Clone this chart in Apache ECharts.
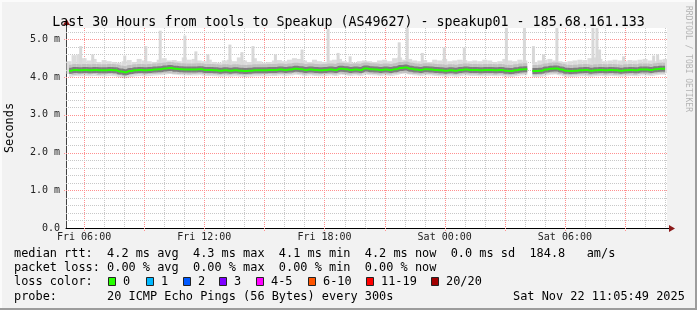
<!DOCTYPE html>
<html><head><meta charset="utf-8">
<script src="https://cdn.jsdelivr.net/npm/echarts@6/dist/echarts.min.js"></script>
<style>html,body{margin:0;padding:0;background:#f2f2f2}#c{width:697px;height:310px}</style>
</head><body><div id="c"></div>
<script>
// ---------------- DATA ----------------
const titleText = 'Last 30 Hours from tools to Speakup (AS49627) - speakup01 - 185.68.161.133';
const startHour = 5 + 5/60 + 49/3600;   // Fri 05:05:49 (hours since Fri 00:00)
const spanHours = 30;
const firstSampleHour = 5.25;
const sampleStepHours = 0.25;

const medianRtt = [
4.17,4.19,4.18,4.19,4.18,4.19,4.18,4.18,4.19,4.18,
4.15,4.13,4.16,4.18,4.19,4.18,4.19,4.20,4.21,4.23,
4.24,4.22,4.21,4.20,4.20,4.20,4.21,4.19,4.19,4.18,
4.17,4.18,4.17,4.18,4.17,4.16,4.17,4.18,4.18,4.18,
4.19,4.19,4.20,4.19,4.20,4.22,4.21,4.19,4.20,4.19,
4.18,4.19,4.20,4.19,4.22,4.21,4.19,4.20,4.19,4.23,
4.21,4.20,4.19,4.20,4.19,4.21,4.24,4.25,4.22,4.20,
4.19,4.21,4.20,4.19,4.18,4.17,4.18,4.17,4.19,4.20,
4.19,4.19,4.18,4.19,4.19,4.18,4.19,4.17,4.16,4.18,
4.20,4.21,null,4.16,4.17,4.20,4.22,4.23,4.20,4.17,
4.16,4.17,4.18,4.19,4.17,4.18,4.19,4.18,4.19,4.18,
4.17,4.18,4.19,4.18,4.20,4.20,4.19,4.21,4.22,4.22];

const smokeLow = [
4.08,4.06,4.07,4.08,4.07,4.08,4.06,4.07,4.08,4.07,
4.05,4.03,4.05,4.07,4.08,4.07,4.08,4.08,4.09,4.10,
4.10,4.09,4.08,4.08,4.07,4.08,4.09,4.08,4.07,4.07,
4.06,4.07,4.06,4.07,4.06,4.05,4.06,4.07,4.07,4.08,
4.08,4.07,4.08,4.08,4.08,4.10,4.09,4.07,4.08,4.07,
4.07,4.08,4.08,4.07,4.09,4.08,4.07,4.08,4.07,4.10,
4.09,4.08,4.07,4.08,4.07,4.09,4.10,4.11,4.09,4.08,
4.07,4.08,4.08,4.07,4.06,4.06,4.07,4.06,4.07,4.08,
4.07,4.07,4.06,4.07,4.07,4.06,4.07,4.06,4.05,4.06,
4.08,4.09,null,4.05,4.06,4.08,4.10,4.10,4.08,4.06,
4.05,4.06,4.07,4.07,4.05,4.06,4.07,4.06,4.07,4.06,
4.06,4.07,4.07,4.06,4.08,4.08,4.07,4.09,4.10,4.10];

const smokeHigh = [
4.42,4.58,4.60,4.50,4.44,4.48,4.40,4.45,4.42,4.40,
4.38,4.42,4.45,4.40,4.48,4.44,4.42,4.40,4.46,4.50,
4.44,4.45,4.42,4.52,4.46,4.48,4.44,4.42,4.46,4.40,
4.38,4.44,4.46,4.42,4.52,4.44,4.40,4.50,4.42,4.38,
4.40,4.44,4.45,4.42,4.46,4.50,4.48,4.44,4.40,4.46,
4.42,4.40,4.44,4.46,4.48,4.42,4.40,4.38,4.42,4.44,
4.42,4.40,4.44,4.46,4.42,4.50,4.52,4.46,4.48,4.44,
4.42,4.45,4.40,4.46,4.44,4.48,4.42,4.44,4.46,4.45,
4.42,4.44,4.42,4.46,4.44,4.40,4.42,4.48,4.44,4.42,
4.46,4.44,null,4.40,4.44,4.46,4.48,4.44,4.42,4.40,
4.42,4.44,4.46,4.45,4.50,4.52,4.48,4.42,4.44,4.46,
4.44,4.42,4.45,4.44,4.46,4.48,4.44,4.42,4.46,4.48];

const spikeTimes = [5.83,6.43,8.03,9.08,9.80,11.03,11.58,12.18,13.28,13.88,14.43,15.55,16.88,18.18,18.68,19.28,
                    21.73,22.13,22.88,23.98,24.98,27.08,27.98,28.43,28.93,29.60,31.40,31.60,31.73,32.93,34.43,34.63];
const spikeLow   = [4.35,4.35,4.35,4.35,4.35,4.35,4.35,4.35,4.35,4.35,4.35,4.35,4.35,4.35,4.35,4.35,
                    4.35,4.35,4.35,4.35,4.35,4.35,4.35,4.35,4.35,4.35,4.35,4.35,4.35,4.35,4.35,4.35];
const spikeHigh  = [4.82,4.60,4.57,4.82,5.23,5.10,4.68,4.60,4.86,4.66,4.82,4.60,4.73,5.28,4.64,4.55,
                    4.92,5.30,4.64,4.78,4.78,5.30,5.30,4.82,4.60,5.30,5.30,5.30,4.73,4.55,4.57,4.60];

const yLabelValues = [0,1,2,3,4,5];
const yMajorGrid = [1,2,3,4,5];
const yMinorGrid = [0.2,0.4,0.6,0.8,1.2,1.4,1.6,1.8,2.2,2.4,2.6,2.8,3.2,3.4,3.6,3.8,4.2,4.4,4.6,4.8,5.2];
const xLabelHours = [6,12,18,24,30];
const xLabelTexts = ['Fri 06:00','Fri 12:00','Fri 18:00','Sat 00:00','Sat 06:00'];
const majorGridHours = [6,9,12,15,18,21,24,27,30,33];
const minorGridHours = [7,8,10,11,13,14,16,17,19,20,22,23,25,26,28,29,31,32,34,35];

const rttStatValues = [4.2,4.3,4.1,4.2,0.0];
const rttStatNames = ['avg','max','min','now','sd'];
const ampsValue = 184.8;
const lossStatValues = [0,0,0,0];
const lossStatNames = ['avg','max','min','now'];
const lossLabels = ['0','1','2','3','4-5','6-10','11-19','20/20'];
const lossColors = ['#26ff00','#00b8ff','#0059ff','#7e00ff','#ff00ff','#ff5500','#ff0000','#a10000'];
const probeCount = 20, probeBytes = 56, probeStep = 300;
const stampText = 'Sat Nov 22 11:05:49 2025';

// ---------------- BUILD ----------------
const sampleHours = medianRtt.map((_, i) => firstSampleHour + i * sampleStepHours);
const smokeData = [];
sampleHours.forEach((t, i) => { if (smokeLow[i] != null) smokeData.push([t, smokeLow[i], smokeHigh[i]]); });
const medianData = sampleHours.map((t, i) => [t, medianRtt[i] == null ? '-' : medianRtt[i]]);
const spikeData = spikeTimes.map((t, i) => [t, spikeLow[i], spikeHigh[i]]);
const vGridData = majorGridHours.map(h => [h, 1]).concat(minorGridHours.map(h => [h, 0]));
const hGridData = yMajorGrid.map(v => [v, 1]).concat(yMinorGrid.map(v => [v, 0]));

const mono = "'DejaVu Sans Mono', monospace";
const RED = '#ff9090', GRAY = '#c8c8c8';
const chart = echarts.init(document.getElementById('c'), null, {renderer: 'canvas'});

function bandItem(params, api) {
  const t = api.value(0), lo = api.value(1), hi = api.value(2);
  const p1 = api.coord([t - sampleStepHours / 2, hi]);
  const p2 = api.coord([t + sampleStepHours / 2, lo]);
  return {type: 'rect', shape: {x: p1[0], y: p1[1], width: p2[0] - p1[0], height: p2[1] - p1[1]},
          style: {fill: '#dcdcdc'}};
}
function spikeItem(params, api) {
  const t = api.value(0), lo = api.value(1), hi = api.value(2);
  const p1 = api.coord([t, hi]);
  const p2 = api.coord([t, lo]);
  return {type: 'rect', shape: {x: p1[0] - 1.5, y: p1[1], width: 3, height: p2[1] - p1[1]},
          style: {fill: '#d8d8d8'}};
}
function vGridItem(params, api) {
  const h = api.value(0), major = api.value(1);
  const top = api.coord([h, 5.3]), bot = api.coord([h, 0]);
  const x = Math.round(top[0]) + 0.5;
  return {type: 'line', shape: {x1: x, y1: top[1], x2: x, y2: bot[1] + (major ? 3 : 0)},
          style: {stroke: major ? RED : GRAY, lineWidth: 1, lineDash: [1, 1]}};
}
function hGridItem(params, api) {
  const v = api.value(0), major = api.value(1);
  const l = api.coord([startHour, v]), r = api.coord([startHour + spanHours, v]);
  const y = Math.round(l[1]) + 0.5;
  return {type: 'line', shape: {x1: l[0] - (major ? 2 : 0), y1: y, x2: r[0], y2: y},
          style: {stroke: major ? RED : GRAY, lineWidth: 1, lineDash: [1, 1]}};
}

const rttLine = 'median rtt:  ' + rttStatValues.map((v, i) => v.toFixed(1) + ' ms ' + rttStatNames[i]).join('  ')
  + '  ' + ampsValue.toFixed(1) + '   am/s';
const lossLine = 'packet loss: ' + lossStatValues.map((v, i) => v.toFixed(2) + ' % ' + lossStatNames[i]).join('  ');
const probeLine = 'probe:       ' + probeCount + ' ICMP Echo Pings (' + probeBytes + ' Bytes) every ' + probeStep + 's';

const lossBoxX = [108, 146, 183, 219, 256, 308, 366, 431];
const textStyleBase = {font: '11.9px ' + mono, fill: '#000', verticalAlign: 'middle'};
const graphics = [
  {type: 'rect', shape: {x: 0, y: 0, width: 697, height: 2}, style: {fill: '#fbfbfb'}, silent: true},
  {type: 'rect', shape: {x: 0, y: 0, width: 2, height: 310}, style: {fill: '#fbfbfb'}, silent: true},
  {type: 'rect', shape: {x: 695, y: 0, width: 2, height: 310}, style: {fill: '#9c9c9c'}, silent: true},
  {type: 'rect', shape: {x: 0, y: 308, width: 697, height: 2}, style: {fill: '#9c9c9c'}, silent: true},
  {type: 'line', shape: {x1: 66.5, y1: 28, x2: 66.5, y2: 24}, style: {stroke: '#444', lineWidth: 1}},
  {type: 'polygon', shape: {points: [[63, 25], [70, 25], [66.5, 19]]}, style: {fill: '#8b1a1a'}},
  {type: 'line', shape: {x1: 666, y1: 228.5, x2: 670, y2: 228.5}, style: {stroke: '#000', lineWidth: 1}},
  {type: 'polygon', shape: {points: [[669, 225], [669, 232], [675, 228.5]]}, style: {fill: '#8b1a1a'}},
  {type: 'text', x: 688, y: 59, rotation: -Math.PI / 2,
   style: {text: 'RRDTOOL / TOBI OETIKER', font: '8px ' + mono, fill: '#b4b4b4', align: 'center', verticalAlign: 'middle'}},
  {type: 'text', x: 14, y: 254, style: Object.assign({text: rttLine}, textStyleBase)},
  {type: 'text', x: 14, y: 268.3, style: Object.assign({text: lossLine}, textStyleBase)},
  {type: 'text', x: 14, y: 282, style: Object.assign({text: 'loss color:'}, textStyleBase)},
  {type: 'text', x: 14, y: 296.7, style: Object.assign({text: probeLine}, textStyleBase)},
  {type: 'text', x: 513, y: 296.7, style: Object.assign({text: stampText}, textStyleBase)}
];
lossLabels.forEach((lab, i) => {
  graphics.push({type: 'rect', shape: {x: lossBoxX[i] + 0.5, y: 277.5, width: 7, height: 8},
                 style: {fill: lossColors[i], stroke: '#222', lineWidth: 1}});
  graphics.push({type: 'text', x: lossBoxX[i] + 15, y: 282, style: Object.assign({text: lab}, textStyleBase)});
});

chart.setOption({
  animation: false,
  backgroundColor: '#f2f2f2',
  title: {text: titleText, left: 'center', top: 11,
          textStyle: {fontFamily: mono, fontSize: 13.3, fontWeight: 'normal', color: '#000'}},
  grid: {left: 66, right: 30, top: 28, bottom: 82, containLabel: false, outerBoundsMode: 'none',
         show: true, backgroundColor: '#ffffff', borderWidth: 0},
  xAxis: {
    type: 'value', min: startHour, max: startHour + spanHours,
    splitLine: {show: false},
    axisLine: {lineStyle: {color: '#000', width: 1}},
    axisTick: {show: false},
    axisLabel: {customValues: xLabelHours, margin: 4, fontFamily: mono, fontSize: 10, color: '#222',
                formatter: v => xLabelTexts[xLabelHours.indexOf(Math.round(v))] || ''}
  },
  yAxis: {
    type: 'value', min: 0, max: 5.3, interval: 0.2,
    name: 'Seconds', nameLocation: 'middle', nameGap: 50, nameRotate: 90,
    nameTextStyle: {fontFamily: mono, fontSize: 11.9, color: '#000'},
    axisLine: {show: true, lineStyle: {color: '#444', width: 1}},
    axisTick: {show: false},
    splitLine: {show: false},
    axisLabel: {customValues: yLabelValues, margin: 6, fontFamily: mono, fontSize: 10, color: '#222',
                formatter: v => v === 0 ? '0.0' : v.toFixed(1) + ' m'}
  },
  series: [
    {type: 'custom', renderItem: vGridItem, data: vGridData, clip: false, z: 1, silent: true},
    {type: 'custom', renderItem: hGridItem, data: hGridData, clip: false, z: 1, silent: true},
    {type: 'custom', renderItem: bandItem, data: smokeData, clip: true, z: 2, silent: true},
    {type: 'custom', renderItem: spikeItem, data: spikeData, clip: true, z: 2, silent: true},
    {type: 'line', data: medianData, step: 'middle', showSymbol: false, connectNulls: false, z: 3, silent: true,
     lineStyle: {color: 'rgba(0,0,0,0.12)', width: 12}},
    {type: 'line', data: medianData, step: 'middle', showSymbol: false, connectNulls: false, z: 4, silent: true,
     lineStyle: {color: 'rgba(0,0,0,0.35)', width: 6}},
    {type: 'line', data: medianData, step: 'middle', showSymbol: false, connectNulls: false, z: 5, silent: true,
     lineStyle: {color: '#26ff00', width: 2}}
  ],
  graphic: graphics
});
</script>
</body></html>
